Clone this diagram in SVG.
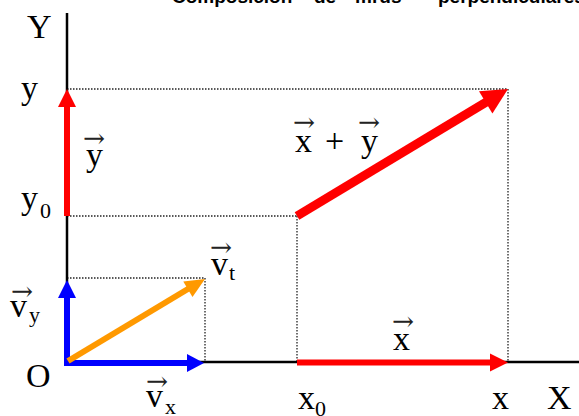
<svg xmlns="http://www.w3.org/2000/svg" width="579" height="416" viewBox="0 0 579 416">
<style>
.bg{fill:#ffffff}
.axis{stroke:#000;stroke-width:2.5;fill:none}
.dot{stroke:#222;stroke-width:1.3;stroke-dasharray:1.5 1.5;fill:none}
.red{stroke:#ff0000;fill:none}
.redf{fill:#ff0000}
.blue{stroke:#0000ff;fill:none}
.bluef{fill:#0000ff}
.org{stroke:#ff9900;fill:none}
.orgf{fill:#ff9900}
.lbl{font-family:"Liberation Serif","Times New Roman",serif;font-size:34px;fill:#000}
.sub{font-family:"Liberation Serif","Times New Roman",serif;font-size:22px;fill:#000}
.vec{font-family:"DejaVu Serif","Liberation Serif",serif;font-size:26px;fill:#222}
.title{font-family:"Liberation Sans",Arial,sans-serif;font-size:19px;font-weight:bold;fill:#000}
</style>
<rect class="bg" x="0" y="0" width="579" height="416"/>
<text class="title" y="3"><tspan x="172">Composición</tspan><tspan x="314">de</tspan><tspan x="355">mrus</tspan><tspan x="438">perpendiculares</tspan></text>

<g id="guides">
<line class="dot" x1="67" y1="89" x2="508" y2="89"/>
<line class="dot" x1="67" y1="216" x2="297" y2="216"/>
<line class="dot" x1="67" y1="278" x2="205" y2="278"/>
<line class="dot" x1="205" y1="278" x2="205" y2="362"/>
<line class="dot" x1="297" y1="216" x2="297" y2="362"/>
<line class="dot" x1="508" y1="89" x2="508" y2="362"/>
</g>

<g id="axes">
<line class="axis" x1="67" y1="13" x2="67" y2="363"/>
<line class="axis" x1="66" y1="362" x2="579" y2="362"/>
<text class="lbl" x="27" y="38">Y</text>
<text class="lbl" x="547" y="409">X</text>
<text class="lbl" x="26" y="387">O</text>
</g>

<g id="connectors">
<g id="vec-y">
<line class="red" stroke-width="6" x1="67" y1="216" x2="67" y2="104"/>
<polygon class="redf" points="67,89 76,107 58,107"/>
</g>
<g id="vec-x">
<line class="red" stroke-width="6" x1="297" y1="362.5" x2="492" y2="362.5"/>
<polygon class="redf" points="508,362.5 490,353.5 490,371.5"/>
</g>
<g id="vec-sum">
<line class="red" stroke-width="9" x1="297" y1="216" x2="487" y2="101.6"/>
<polygon class="redf" points="508,89 492.4,113.5 479,91.3"/>
</g>
<g id="vec-vy">
<line class="blue" stroke-width="6" x1="67" y1="365" x2="67" y2="295"/>
<polygon class="bluef" points="67,280 76,298 58,298"/>
</g>
<g id="vec-vx">
<line class="blue" stroke-width="6" x1="64" y1="363" x2="189" y2="363"/>
<polygon class="bluef" points="204,363 187,354 187,372"/>
</g>
<g id="vec-vt">
<line class="org" stroke-width="6" x1="68" y1="361" x2="190" y2="287.7"/>
<polygon class="orgf" points="205,279 192.5,297 183.3,281.6"/>
</g>
</g>

<g id="labels">
<text class="lbl" x="21" y="99">y</text>
<text class="lbl" x="21" y="209">y</text><text class="sub" x="40" y="218">0</text>
<text class="vec" x="83" y="147" textLength="22" lengthAdjust="spacingAndGlyphs">→</text>
<text class="lbl" x="86" y="166">y</text>
<text class="vec" x="293" y="131" textLength="22" lengthAdjust="spacingAndGlyphs">→</text>
<text class="lbl" x="295" y="152">x</text>
<text class="lbl" x="325" y="152">+</text>
<text class="vec" x="358" y="131" textLength="22" lengthAdjust="spacingAndGlyphs">→</text>
<text class="lbl" x="361" y="152">y</text>
<text class="vec" x="392" y="330" textLength="22" lengthAdjust="spacingAndGlyphs">→</text>
<text class="lbl" x="393" y="350">x</text>
<text class="vec" x="210" y="256" textLength="22" lengthAdjust="spacingAndGlyphs">→</text>
<text class="lbl" x="211" y="275">v</text><text class="sub" x="229" y="280">t</text>
<text class="vec" x="11" y="300" textLength="22" lengthAdjust="spacingAndGlyphs">→</text>
<text class="lbl" x="10" y="317">v</text><text class="sub" x="29" y="322">y</text>
<text class="vec" x="146" y="390" textLength="22" lengthAdjust="spacingAndGlyphs">→</text>
<text class="lbl" x="146" y="407">v</text><text class="sub" x="165" y="414">x</text>
<text class="lbl" x="298" y="409">x</text><text class="sub" x="315" y="416">0</text>
<text class="lbl" x="492" y="409">x</text>
</g>
</svg>
